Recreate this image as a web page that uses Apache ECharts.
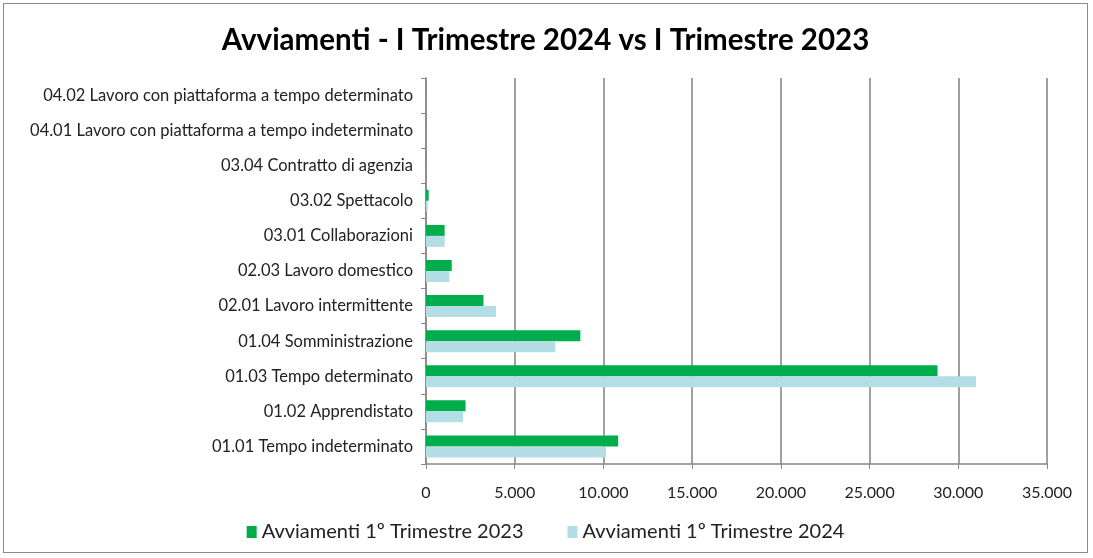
<!DOCTYPE html>
<html>
<head>
<meta charset="utf-8">
<script src="https://cdn.jsdelivr.net/npm/echarts@6/dist/echarts.min.js"></script>
<style>
  html, body { margin: 0; padding: 0; background: #fff; }
  #chart {
    position: absolute; left: 3px; top: 3px;
    width: 1085px; height: 550px;
    border: 1px solid #8a8a8a; box-sizing: border-box;
  }
</style>
</head>
<body>
<div id="chart"></div>
<script>
  // categories, bottom to top
  const categories = [
    '01.01 Tempo indeterminato',
    '01.02 Apprendistato',
    '01.03 Tempo determinato',
    '01.04 Somministrazione',
    '02.01 Lavoro intermittente',
    '02.03 Lavoro domestico',
    '03.01 Collaborazioni',
    '03.02 Spettacolo',
    '03.04 Contratto di agenzia',
    '04.01 Lavoro con piattaforma a tempo indeterminato',
    '04.02 Lavoro con piattaforma a tempo determinato'
  ]
  const avv2023 = [10830, 2230, 28830, 8700, 3240, 1450, 1050, 150, 5, 2, 2]
  const avv2024 = [10150, 2090, 31000, 7290, 3940, 1320, 1050, 100, 5, 2, 2]
  const xTicks = [0, 5000, 10000, 15000, 20000, 25000, 30000, 35000]

  const fmt = v => v.toString().replace(/\B(?=(\d{3})+(?!\d))/g, '.')
  const font = 'Lato, "Open Sans", sans-serif'

  let chart = echarts.init(document.getElementById('chart'))
  chart.setOption({
    animation: false,
    title: {
      text: 'Avviamenti - I Trimestre 2024 vs I Trimestre 2023',
      left: 'center',
      top: 16,
      textStyle: { fontFamily: font, fontSize: 29.5, fontWeight: 'bold', color: '#000' }
    },
    legend: {
      bottom: 5,
      left: 'center',
      itemWidth: 10,
      itemHeight: 12,
      itemGap: 44,
      icon: 'rect',
      textStyle: { fontFamily: font, fontSize: 20, color: '#222' },
      data: ['Avviamenti 1º Trimestre 2023', 'Avviamenti 1º Trimestre 2024']
    },
    grid: { left: 422, right: 40, top: 74, bottom: 88 },
    xAxis: {
      type: 'value',
      min: xTicks[0],
      max: xTicks[xTicks.length - 1],
      interval: 5000,
      axisLine: { show: true, lineStyle: { color: '#888', width: 1.5 } },
      axisTick: { show: true, length: 5, lineStyle: { color: '#888' } },
      axisLabel: { formatter: fmt, fontFamily: font, fontSize: 16, color: '#222', margin: 21 },
      splitLine: { lineStyle: { color: '#808080', width: 1.5 } }
    },
    yAxis: {
      type: 'category',
      data: categories,
      axisLine: { lineStyle: { color: '#888', width: 1.5 } },
      axisTick: { show: true, length: 5, lineStyle: { color: '#888' } },
      axisLabel: { fontFamily: font, fontSize: 16.5, color: '#222', margin: 13 }
    },
    series: [{
      name: 'Avviamenti 1º Trimestre 2023',
      type: 'bar',
      data: avv2023,
      barWidth: 11,
      barGap: '0%',
      itemStyle: { color: '#00ad4c' }
    }, {
      name: 'Avviamenti 1º Trimestre 2024',
      type: 'bar',
      data: avv2024,
      barWidth: 11,
      barGap: '0%',
      itemStyle: { color: '#b4dde6' }
    }]
  })
</script>
</body>
</html>
